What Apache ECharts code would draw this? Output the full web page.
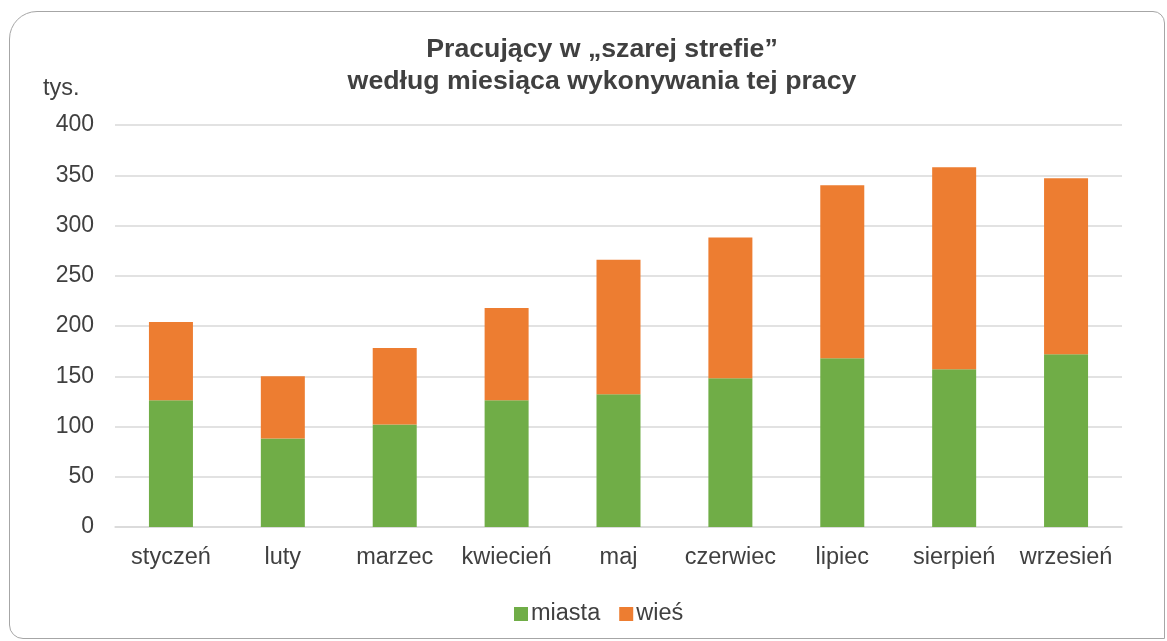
<!DOCTYPE html>
<html>
<head>
<meta charset="utf-8">
<script src="https://cdn.jsdelivr.net/npm/echarts@6/dist/echarts.min.js"></script>
<style>
html,body{margin:0;padding:0;background:#fff;}
#frame{position:absolute;left:9px;top:11px;width:1156px;height:628px;border:1.5px solid #a6a6a6;border-radius:28px 12px 0 14px;box-sizing:border-box;}
#chart{position:absolute;left:0;top:0;width:1167px;height:641px;}
</style>
</head>
<body>
<div id="frame"></div>
<div id="chart"></div>
<script>
const categories = ['styczeń','luty','marzec','kwiecień','maj','czerwiec','lipiec','sierpień','wrzesień'];
const miasta = [126, 88, 102, 126, 132, 148, 168, 157, 172];
const wies = [78, 62, 76, 92, 134, 140, 172, 201, 175];
const yTicks = [0, 50, 100, 150, 200, 250, 300, 350, 400];
const titleLines = ['Pracujący w „szarej strefie”', 'według miesiąca wykonywania tej pracy'];
const unitLabel = 'tys.';

const chart = echarts.init(document.getElementById('chart'), null, {renderer:'canvas'});
const font = 'Liberation Sans, Arial, sans-serif';
chart.setOption({
  animation:false,
  backgroundColor:'transparent',
  title:{
    text:titleLines.join('\n'),
    left:597, top:29, textAlign:'center',
    textStyle:{fontFamily:font,fontSize:26.7,fontWeight:'bold',color:'#404040',lineHeight:32}
  },
  graphic:[{type:'text',left:43,top:77,style:{text:unitLabel,font:'23.5px '+font,fill:'#404040'}}],
  legend:{
    data:['miasta','wieś'], top:597, left:509, itemWidth:14, itemHeight:14, itemGap:19,
    icon:'rect', textStyle:{fontFamily:font,fontSize:23.5,color:'#404040',padding:[0,0,0,-2]}
  },
  grid:{left:115, right:45, top:125, bottom:114, containLabel:false},
  xAxis:{
    type:'category', data:categories,
    axisLine:{lineStyle:{color:'#d9d9d9',width:1.5}},
    axisTick:{show:false},
    axisLabel:{fontFamily:font,fontSize:23.5,color:'#404040',margin:19,interval:0}
  },
  yAxis:{
    type:'value', min:yTicks[0], max:yTicks[yTicks.length-1], interval:50,
    axisLine:{show:false}, axisTick:{show:false},
    axisLabel:{fontFamily:font,fontSize:23,color:'#404040',margin:21},
    splitLine:{lineStyle:{color:'#d9d9d9',width:1.5}}
  },
  series:[
    {name:'miasta',type:'bar',stack:'s',data:miasta,barWidth:44,itemStyle:{color:'#70AD47'}},
    {name:'wieś',type:'bar',stack:'s',data:wies,barWidth:44,itemStyle:{color:'#ED7D31'}}
  ]
});
</script>
</body>
</html>
